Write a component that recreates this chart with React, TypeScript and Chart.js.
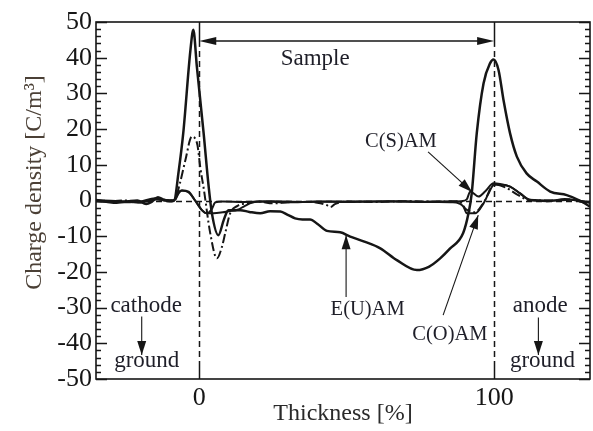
import React, { useEffect, useRef } from "react";
import { Chart, registerables } from "chart.js";

Chart.register(...registerables);

// ---- axis ranges & ticks ----
const X_MIN = -35;
const X_MAX = 132.5;
const Y_MIN = -50;
const Y_MAX = 50;
const Y_STEP = 10;
const Y_MINOR_STEP = 2;
const xTickValues = [0, 100];
const xTickLabels = ["0", "100"];

// ---- series: E(U)AM (thick solid) ----
const eUamX = [-35, -31, -28, -24, -21, -18, -16, -14, -12, -10, -8.5, -7, -5.4, -3, -2, -0.8, 1.5, 3.2, 4.3, 6.5, 8.3, 9.9, 13.9, 17, 20.7, 24, 27.5, 30, 32.5, 35, 37.6, 40, 43.3, 47.8, 51.2, 56, 61.4, 67, 73.8, 78, 81.7, 85, 89.5, 91.3, 92.4, 94.1, 96.4, 98.6, 99.8, 101.5, 103.2, 105.4, 107.7, 111, 114.5, 119, 124.6, 129, 132.5];
const eUamY = [0, -0.4, -0.6, -0.2, 0, -1, -0.3, 0.9, 0.2, -0.2, 0, 8, 19, 42, 47.8, 37.5, 18.8, 3.9, -3.6, -9.7, -5.5, -2.7, -2.7, -3.2, -3.6, -3, -3.1, -4, -5, -5.3, -5.3, -6.5, -8.5, -8.9, -10.1, -11.5, -13.4, -16.7, -19.5, -18.5, -16.2, -13.5, -9.1, -3.6, 2, 18.8, 32.8, 38.4, 39.5, 36.5, 28, 18.8, 12.3, 7.6, 5.3, 2.5, 1.5, 0, -1.7];

// ---- series: dash-dot curve ----
const dashX = [-35, -30, -25, -20, -15, -12, -10, -8.5, -6.5, -4.7, -2.5, -1.5, -0.6, 0.4, 1.5, 3.7, 6, 7.7, 8.8, 10.5, 13, 16, 20, 25, 30, 35, 40, 43, 44.5, 46, 50, 60, 70, 80, 88, 90.5, 93.5, 96.5, 100, 104, 108, 112, 120, 126, 130, 132.5];
const dashY = [0.2, -0.2, 0, -0.5, 0.5, 0.2, 0, 0, 5, 11.3, 17.9, 17.5, 15.5, 9, 3.5, -9, -16.2, -13, -9.2, -3.6, -1.5, -0.8, -0.3, -0.8, -0.5, -0.4, -0.6, -1.2, -1.8, -1, -0.3, -0.4, -0.2, -0.3, -0.2, -2.5, -3.3, -0.5, 4.5, 3.6, 1.6, 0.1, 0, 0.3, -0.5, -1];

// ---- series: C(S)AM ----
const cSamX = [-35, -30, -25, -20, -15, -12, -9, -8, -7, -5.9, -3.6, -1.4, 0.9, 2.6, 4.2, 5.5, 8, 15, 25, 35, 45, 55, 65, 75, 82, 87, 89, 90.7, 91.9, 94.7, 97, 99.8, 102, 105.4, 108.8, 112, 118, 124, 128, 132.5];
const cSamY = [-0.2, -0.4, -0.5, -0.3, 0.6, 0, 0, 0.6, 2.3, 2.9, 2.5, 0, -2.7, -3.6, -2.5, -0.5, -0.3, -0.4, -0.2, -0.4, -0.3, -0.3, -0.2, -0.4, -0.3, -0.3, -0.2, 0.3, 2.5, 1.1, 2.6, 4.8, 4.6, 3.9, 2, 0.2, -0.2, 0.4, 0, -0.6];

// ---- series: C(O)AM ----
const cOamX = [-35, -30, -25, -20, -15, -12, -9, -8, -7, -5.9, -3.6, -1.4, 0.9, 2.6, 4.9, 8, 10, 13, 15.5, 18, 22, 30, 40, 50, 60, 70, 80, 86, 88, 89.6, 90.7, 93.6, 96.4, 98, 99.8, 102, 105.4, 108.8, 112, 120, 126, 130, 132.5];
const cOamY = [0.1, -0.1, -0.3, -0.6, 0.3, 0.1, 0, 0.4, 2.0, 2.7, 2.3, 0, -2.7, -3.6, -3.6, -3.3, -3.0, -2.6, -1.5, -0.6, -0.3, -0.5, -0.3, -0.4, -0.3, -0.3, -0.4, -0.5, -0.8, -1.7, -3.6, -3.6, -0.8, 1.8, 4.3, 4.5, 3.9, 2, 0.2, 0, 0.2, -0.2, -0.5];

// ---- texts ----
const xTitle = "Thickness [%]";
const yTitle = "Charge density [C/m\u00B3]";
const sampleLabel = "Sample";
const sampleRange = [0, 100];
const sampleArrowY = 44.7;
const sampleTextPos = [39.3, 37.9];

// annotation labels: text, x, y (baseline, data units), font size
const labelTexts = ["C(S)AM", "E(U)AM", "C(O)AM", "cathode", "ground", "anode", "ground"];
const labelX = [68.4, 57.1, 85.0, -18.0, -17.8, 115.6, 116.4];
const labelY = [15.1, -32.1, -39.1, -31.2, -46.6, -31.2, -46.6];
const labelSize = [20.5, 20.5, 20.5, 23, 23, 23, 23];

// annotation arrows: from (x1,y1) to tip (x2,y2), data units
const arrowX1 = [77.6, 49.8, 82.7, -19.5, 115.0];
const arrowY1 = [13.6, -27.0, -32.1, -32.5, -32.8];
const arrowX2 = [92.5, 49.8, 94.6, -19.5, 115.0];
const arrowY2 = [2.4, -9.7, -4.1, -43.3, -43.3];

const SERIF = "'Liberation Serif', 'Times New Roman', serif";
const INK = "#161616";

function toPts(xs: number[], ys: number[]) {
  return xs.map((x, i) => ({ x, y: ys[i] }));
}

function arrowHead(ctx: CanvasRenderingContext2D, x1: number, y1: number, x2: number, y2: number, len: number, hw: number) {
  const a = Math.atan2(y2 - y1, x2 - x1);
  const bx = x2 - len * Math.cos(a);
  const by = y2 - len * Math.sin(a);
  const nx = -Math.sin(a) * hw;
  const ny = Math.cos(a) * hw;
  ctx.beginPath();
  ctx.moveTo(x2, y2);
  ctx.lineTo(bx + nx, by + ny);
  ctx.lineTo(bx - nx, by - ny);
  ctx.closePath();
  ctx.fill();
}

const decorPlugin = {
  id: "decor",
  beforeDatasetsDraw(chart: any) {
    const { ctx, chartArea: ca, scales } = chart;
    const xs = scales.x;
    const ys = scales.y;
    ctx.save();
    ctx.strokeStyle = INK;
    ctx.lineWidth = 1.5;
    // vertical reference lines at sample boundaries
    const topSolidEnd = ys.getPixelForValue(sampleArrowY) + 6;
    for (const v of sampleRange) {
      const px = Math.round(xs.getPixelForValue(v)) + 0.5;
      ctx.setLineDash([]);
      ctx.beginPath();
      ctx.moveTo(px, ca.top);
      ctx.lineTo(px, topSolidEnd);
      ctx.stroke();
      ctx.setLineDash([6, 4]);
      ctx.beginPath();
      ctx.moveTo(px, topSolidEnd + 4);
      ctx.lineTo(px, ca.bottom - 12);
      ctx.stroke();
      ctx.setLineDash([]);
      ctx.beginPath();
      ctx.moveTo(px, ca.bottom - 12);
      ctx.lineTo(px, ca.bottom);
      ctx.stroke();
    }
    // horizontal zero line
    const py0 = Math.round(ys.getPixelForValue(0)) + 0.5;
    ctx.lineWidth = 1.3;
    ctx.setLineDash([6, 4]);
    ctx.beginPath();
    ctx.moveTo(ca.left, py0);
    ctx.lineTo(ca.right, py0);
    ctx.stroke();
    ctx.restore();
  },
  afterDatasetsDraw(chart: any) {
    const { ctx, chartArea: ca, scales } = chart;
    const xs = scales.x;
    const ys = scales.y;
    ctx.save();
    ctx.strokeStyle = INK;
    ctx.fillStyle = INK;
    ctx.setLineDash([]);

    // frame
    ctx.lineWidth = 1.6;
    ctx.strokeRect(ca.left, ca.top, ca.right - ca.left, ca.bottom - ca.top);

    // inward tick marks on left/right
    ctx.lineWidth = 1.4;
    for (let v = Y_MIN; v <= Y_MAX + 1e-9; v += Y_MINOR_STEP) {
      const py = Math.round(ys.getPixelForValue(v)) + 0.5;
      const major = Math.abs(v % Y_STEP) < 1e-9;
      const len = major ? 11 : 5;
      ctx.beginPath();
      ctx.moveTo(ca.left, py);
      ctx.lineTo(ca.left + len, py);
      ctx.moveTo(ca.right, py);
      ctx.lineTo(ca.right - len, py);
      ctx.stroke();
    }

    // Sample double arrow
    const sy = ys.getPixelForValue(sampleArrowY);
    const sx1 = xs.getPixelForValue(sampleRange[0]);
    const sx2 = xs.getPixelForValue(sampleRange[1]);
    ctx.lineWidth = 1.5;
    ctx.beginPath();
    ctx.moveTo(sx1 + 8, sy);
    ctx.lineTo(sx2 - 8, sy);
    ctx.stroke();
    arrowHead(ctx, sx2, sy, sx1, sy, 17, 4);
    arrowHead(ctx, sx1, sy, sx2, sy, 17, 4);

    // annotation arrows
    ctx.lineWidth = 1.1;
    for (let i = 0; i < arrowX1.length; i++) {
      const x1 = xs.getPixelForValue(arrowX1[i]);
      const y1 = ys.getPixelForValue(arrowY1[i]);
      const x2 = xs.getPixelForValue(arrowX2[i]);
      const y2 = ys.getPixelForValue(arrowY2[i]);
      ctx.beginPath();
      ctx.moveTo(x1, y1);
      ctx.lineTo(x2, y2);
      ctx.stroke();
      arrowHead(ctx, x1, y1, x2, y2, 14, 4.5);
    }

    // texts
    ctx.textAlign = "center";
    ctx.textBaseline = "alphabetic";
    ctx.fillStyle = "#1e1e28";
    ctx.font = `23px ${SERIF}`;
    ctx.fillText(sampleLabel, xs.getPixelForValue(sampleTextPos[0]), ys.getPixelForValue(sampleTextPos[1]));
    for (let i = 0; i < labelTexts.length; i++) {
      ctx.font = `${labelSize[i]}px ${SERIF}`;
      ctx.fillText(labelTexts[i], xs.getPixelForValue(labelX[i]), ys.getPixelForValue(labelY[i]));
    }

    // y-axis title (rotated)
    ctx.save();
    ctx.fillStyle = "#4b4036";
    ctx.font = `24px ${SERIF}`;
    ctx.translate(ca.left - 55, (ca.top + ca.bottom) / 2 - 18);
    ctx.rotate(-Math.PI / 2);
    ctx.textAlign = "center";
    ctx.textBaseline = "alphabetic";
    ctx.fillText(yTitle, 0, 0);
    ctx.restore();

    ctx.restore();
  },
};

export default function App() {
  const canvasRef = useRef<HTMLCanvasElement | null>(null);

  useEffect(() => {
    const canvas = canvasRef.current;
    if (!canvas) return;
    const common = { pointRadius: 0, fill: false, cubicInterpolationMode: "monotone" as const, borderColor: INK };
    const chart = new Chart(canvas, {
      type: "line",
      data: {
        datasets: [
          { label: "C(S)AM", data: toPts(cSamX, cSamY), borderWidth: 2, ...common },
          { label: "C(O)AM", data: toPts(cOamX, cOamY), borderWidth: 2, ...common },
          { label: "dash-dot", data: toPts(dashX, dashY), borderWidth: 2, borderDash: [9, 3, 2, 3], ...common },
          { label: "E(U)AM", data: toPts(eUamX, eUamY), borderWidth: 2.5, ...common },
        ],
      },
      options: {
        animation: false,
        responsive: false,
        devicePixelRatio: 1,
        layout: { padding: { top: 22, right: 3, left: 0, bottom: 0 } },
        plugins: { legend: { display: false }, tooltip: { enabled: false } },
        scales: {
          x: {
            type: "linear",
            min: X_MIN,
            max: X_MAX,
            afterBuildTicks: (s: any) => {
              s.ticks = xTickValues.map((v) => ({ value: v }));
            },
            afterFit: (s: any) => {
              s.height = 52;
            },
            ticks: {
              autoSkip: false,
              maxRotation: 0,
              padding: 4,
              color: INK,
              font: { family: SERIF, size: 26 },
              callback: (v: any) => {
                const i = xTickValues.indexOf(Number(v));
                return i >= 0 ? xTickLabels[i] : "";
              },
            },
            grid: { display: false, drawTicks: false },
            border: { display: false },
            title: {
              display: true,
              text: xTitle,
              color: "#2a2a2a",
              font: { family: SERIF, size: 24 },
              padding: { top: 0, bottom: 3 },
            },
          },
          y: {
            type: "linear",
            min: Y_MIN,
            max: Y_MAX,
            afterFit: (s: any) => {
              s.width = 96;
            },
            ticks: {
              stepSize: Y_STEP,
              padding: 4,
              color: INK,
              font: { family: SERIF, size: 26 },
            },
            grid: { display: false, drawTicks: false },
            border: { display: false },
          },
        },
      },
      plugins: [decorPlugin],
    });
    return () => chart.destroy();
  }, []);

  return (
    <div style={{ position: "fixed", left: 0, top: 0, width: 593, height: 431, background: "#fff" }}>
      <canvas ref={canvasRef} width={593} height={431} style={{ display: "block" }} />
    </div>
  );
}
